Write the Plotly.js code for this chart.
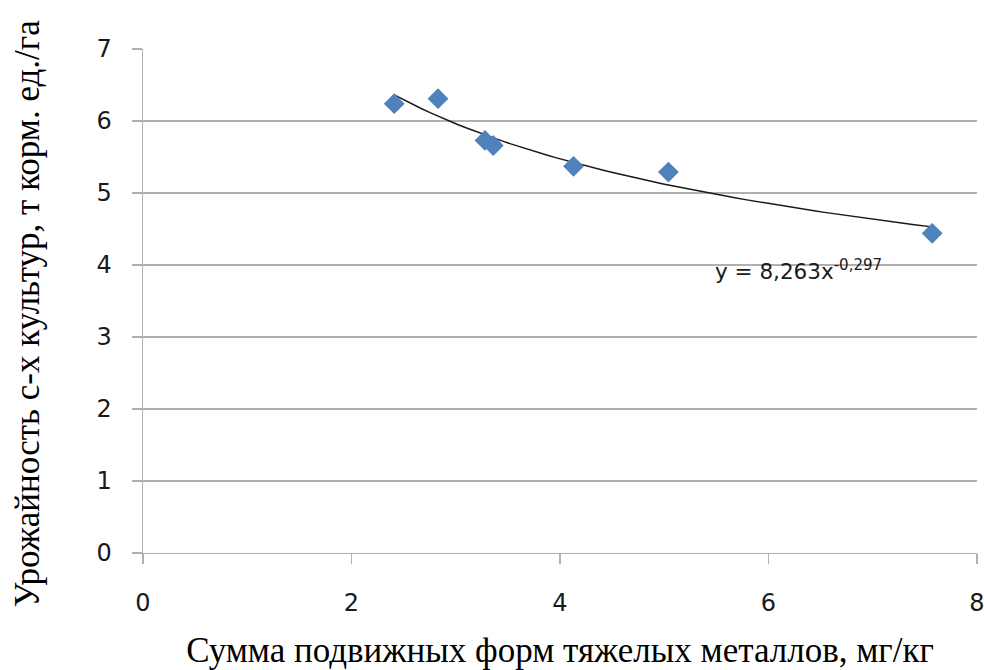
<!DOCTYPE html>
<html>
<head>
<meta charset="utf-8">
<script src="https://cdn.plot.ly/plotly-3.0.1.min.js"></script>
<style>html,body{margin:0;padding:0;background:#fff;}#chart{width:984px;height:670px;}</style>
</head>
<body>
<div id="chart"></div>
<script>
// Data
const metalsSum = [2.41, 2.83, 3.28, 3.36, 4.13, 5.04, 7.57];
const cropYield = [6.24, 6.31, 5.73, 5.66, 5.37, 5.29, 4.44];
// Power trendline shown on the chart: y = 8,263 x^-0,297
const trendA = 8.263;
const trendB = -0.297;
const xTicks = [0, 2, 4, 6, 8];
const yTicks = [0, 1, 2, 3, 4, 5, 6, 7];
const xTitle = 'Сумма подвижных форм тяжелых металлов, мг/кг';
const yTitle = 'Урожайность с-х культур, т корм. ед./га';
const eqText = 'y = 8,263x<sup>-0,297</sup>';

const xmin = Math.min(...metalsSum), xmax = Math.max(...metalsSum);
const trendX = [], trendY = [];
const n = 60;
for (let i = 0; i <= n; i++) {
  const x = xmin + (xmax - xmin) * i / n;
  trendX.push(x);
  trendY.push(trendA * Math.pow(x, trendB));
}

const traces = [
  {
    x: trendX, y: trendY, type: 'scatter', mode: 'lines',
    line: {color: '#1a1a1a', width: 1.5}, hoverinfo: 'skip', showlegend: false
  },
  {
    x: metalsSum, y: cropYield, type: 'scatter', mode: 'markers',
    marker: {symbol: 'diamond', size: 16, color: '#4F81BD', line: {width: 0}},
    showlegend: false
  }
];

const gridCol = '#b0b0b0';
const layout = {
  width: 984, height: 670,
  margin: {l: 143, r: 7, t: 49, b: 117},
  paper_bgcolor: '#ffffff', plot_bgcolor: '#ffffff',
  showlegend: false,
  xaxis: {
    range: [0, 8], tickvals: xTicks, ticktext: xTicks.map(String),
    showgrid: false, zeroline: false,
    showline: true, linecolor: gridCol, linewidth: 1.3,
    ticks: 'outside', ticklen: 10, tickcolor: gridCol, tickwidth: 1.3,
    ticklabelstandoff: 18, ticklabeloverflow: 'allow',
    tickfont: {family: 'DejaVu Sans', size: 24, color: '#1a1a1a'},
    title: {text: xTitle, font: {family: 'Liberation Serif', size: 35, color: '#000'}, standoff: 27},
    automargin: false
  },
  yaxis: {
    range: [0, 7], tickvals: yTicks, ticktext: yTicks.map(String),
    showgrid: true, gridcolor: gridCol, gridwidth: 1.3, zeroline: false,
    showline: true, linecolor: gridCol, linewidth: 1.3,
    ticks: 'outside', ticklen: 10, tickcolor: gridCol, tickwidth: 1.3,
    ticklabelstandoff: 15,
    tickfont: {family: 'DejaVu Sans', size: 24, color: '#1a1a1a'},
    automargin: false
  },
  annotations: [
    {
      x: 5.47, y: 3.93, xref: 'x', yref: 'y', xanchor: 'left', yanchor: 'middle',
      text: eqText, showarrow: false,
      font: {family: 'DejaVu Sans', size: 21.5, color: '#1a1a1a'}
    },
    {
      x: -0.139, y: 0.474, xref: 'paper', yref: 'paper', xanchor: 'center', yanchor: 'middle',
      textangle: -90, text: yTitle, showarrow: false,
      font: {family: 'Liberation Serif', size: 35, color: '#000'}
    }
  ]
};

Plotly.newPlot('chart', traces, layout, {displayModeBar: false, staticPlot: true});
</script>
</body>
</html>
